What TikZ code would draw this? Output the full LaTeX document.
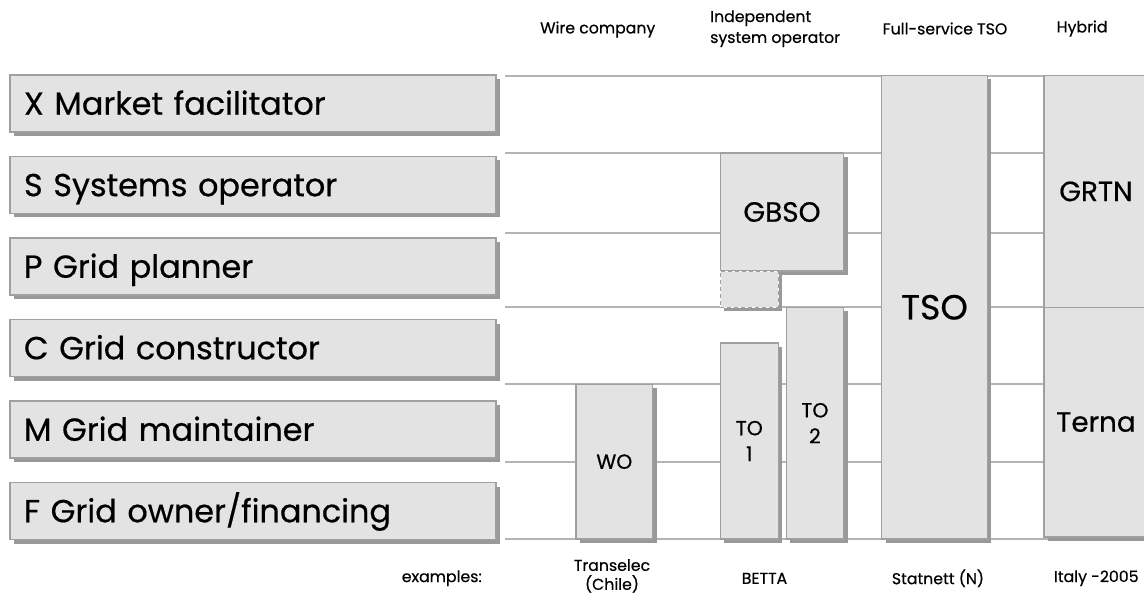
\documentclass[tikz,border=0pt]{standalone}
\usepackage{fontspec}
\setmainfont{Poppins}[FakeBold=0.5]
\usetikzlibrary{shadows}
\definecolor{boxfill}{HTML}{E3E3E3}
\definecolor{boxline}{HTML}{A0A0A0}
\definecolor{shadowc}{HTML}{999999}
\definecolor{gridc}{HTML}{B4B4B4}
\begin{document}
\begin{tikzpicture}[x=1bp,y=-1bp,
  gridline/.style={draw=gridc, line width=1.3bp},
  barbox/.style={rectangle, fill=boxfill, draw=boxline, line width=1.2bp,
    inner sep=0pt, outer sep=0pt, anchor=north west, align=center,
    drop shadow={shadow xshift=4bp, shadow yshift=-4bp, opacity=1, fill=shadowc}},
  rolebox/.style={barbox, minimum height=57bp, text width=458bp, inner xsep=14bp,
    align=left, text height=22.5bp, text depth=0pt, font=\fontsize{32}{38}\selectfont},
  bigtxt/.style={font=\fontsize{35}{40}\selectfont},
  midtxt/.style={font=\fontsize{28}{32}\selectfont},
  smalltxt/.style={font=\fontsize{20.5}{26}\selectfont},
  labeltxt/.style={font=\fontsize{15.8}{21}\selectfont, inner sep=0pt},
  dashbox/.style={barbox, draw=white, line width=1.4bp,
    postaction={draw=boxline, line width=1.4bp, dash pattern=on 4bp off 3bp}}
]
\useasboundingbox (0,0) rectangle (1144,596);
\clip (0,0) rectangle (1144,596);

% horizontal rows
\foreach \yy in {76,153,233,307,384,462,539}
  \draw[gridline] (505,\yy) -- (1150,\yy);

% headers
\node[labeltxt, anchor=west] (hwire) at (540,29.5) {Wire company};
\node[labeltxt, anchor=west, align=left] (hiso) at (710,28.7) {Independent\\system operator};
\node[labeltxt, anchor=west] (hfull) at (882.5,28.5) {Full-service TSO};
\node[labeltxt, anchor=west] (hhyb) at (1056.5,28.5) {Hybrid};

% role boxes
\node[rolebox] (rx) at (10,75) {X Market facilitator};
\node[rolebox] (rs) at (10,156.5) {S Systems operator};
\node[rolebox] (rp) at (10,238) {P Grid planner};
\node[rolebox] (rc) at (10,319.5) {C Grid constructor};
\node[rolebox] (rm) at (10,401) {M Grid maintainer};
\node[rolebox] (rf) at (10,482.5) {F Grid owner/financing};

% wire company
\node[barbox, smalltxt, minimum width=76.7bp, minimum height=154.7bp] (wo) at (576,384.3) {WO};

% independent system operator
\node[barbox, midtxt, minimum width=123bp, minimum height=118bp] (gbso) at (720.5,153) {GBSO};
\node[dashbox, minimum width=58bp, minimum height=36bp] (gap) at (720.3,271.3) {};
\node[barbox, smalltxt, minimum width=58bp, minimum height=196bp] (to1) at (720.3,343) {TO\\1};
\node[barbox, smalltxt, minimum width=57.2bp, minimum height=231.7bp] (to2) at (786.3,307.3) {TO\\2};

% full-service TSO
\node[barbox, bigtxt, minimum width=105.6bp, minimum height=463.5bp] (tso) at (881.7,75.5) {TSO};

% hybrid
\node[barbox, midtxt, minimum width=104bp, minimum height=231.8bp] (grtn) at (1044,75.5) {GRTN};
\node[barbox, midtxt, minimum width=104bp, minimum height=229.7bp] (terna) at (1044,307.3) {Terna};

% examples
\node[labeltxt, anchor=east] (ex) at (482,578.3) {examples:};
\node[labeltxt, align=center, font=\fontsize{15.8}{19}\selectfont] (e1) at (612,576) {Transelec\\(Chile)};
\node[labeltxt] (e2) at (764.5,578.3) {BETTA};
\node[labeltxt] (e3) at (938,578.3) {Statnett (N)};
\node[labeltxt] (e4) at (1096.3,578.3) {Italy -2005};
\end{tikzpicture}
\end{document}
